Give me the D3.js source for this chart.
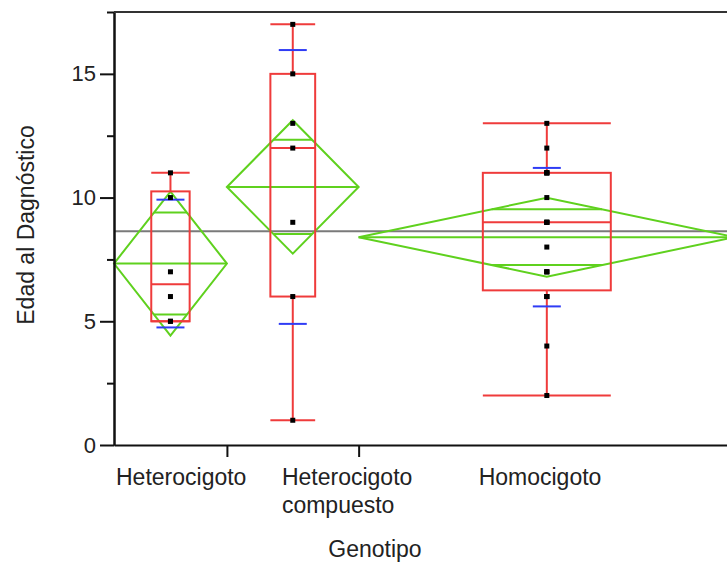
<!DOCTYPE html>
<html lang="es">
<head>
  <meta charset="UTF-8">
  <title>Edad al Diagnóstico por Genotipo</title>
  <script src="https://d3js.org/d3.v7.min.js"></script>
  <style>
    body { margin: 0; background: white; font-family: "Liberation Sans", Arial, sans-serif; }
    .axis path, .axis line { stroke: #111; stroke-width: 2; }
    .axis text { fill: #222; font-size: 22px; font-family: "Liberation Sans", Arial, sans-serif; }
    .label { fill: #222; font-size: 23px; }
  </style>
</head>
<body>
  <div id="chart"></div>

  <script>
    // datos por genotipo (edad al diagnóstico)
    const groups = ["Heterocigoto", "Heterocigoto compuesto", "Homocigoto"];
    const groupLines = [["Heterocigoto"], ["Heterocigoto", "compuesto"], ["Homocigoto"]];
    const hetValues = [5, 5, 6, 7, 10, 11];
    const compValues = [1, 6, 9, 12, 13, 15, 17];
    const homoValues = [2, 4, 6, 6, 6, 7, 7, 7, 8, 9, 9, 9, 9, 10, 11, 11, 11, 11, 12, 13];
    const yTicks = [0, 5, 10, 15];
    const yMinorTicks = [2.5, 7.5, 12.5, 17.5];
    const tCrit = 2.042; // t(0.975, df = 30)

    const values = [hetValues, compValues, homoValues];

    const width = 727, height = 569;
    const mLeft = 114, mRight = 735, mTop = 12, mBottom = 445;

    const red = "#ef3b3b", green = "#5fd11e", blue = "#2f3cf5";

    // cuantiles como JMP: posición p*(n+1)
    function quant(s, p) {
      const pos = p * (s.length + 1);
      const lo = Math.floor(pos), f = pos - lo;
      if (lo < 1) return s[0];
      if (lo >= s.length) return s[s.length - 1];
      return s[lo - 1] + f * (s[lo] - s[lo - 1]);
    }

    const stats = values.map(v => {
      const s = v.slice().sort((a, b) => a - b);
      const q1 = quant(s, 0.25), q3 = quant(s, 0.75), iqr = q3 - q1;
      const m = d3.mean(s);
      return {
        n: s.length,
        mean: m,
        sd: d3.deviation(s),
        q1, q3,
        med: quant(s, 0.5),
        lo: d3.min(s.filter(d => d >= q1 - 1.5 * iqr)),
        hi: d3.max(s.filter(d => d <= q3 + 1.5 * iqr)),
        ss: d3.sum(s, d => (d - m) ** 2),
        vals: s
      };
    });

    const total = d3.sum(stats, d => d.n);
    const grandMean = d3.sum(values.flat()) / total;
    const sPooled = Math.sqrt(d3.sum(stats, d => d.ss) / (total - stats.length));

    let cum = 0;
    stats.forEach(d => { d.start = cum; cum += d.n; d.end = cum; d.mid = (d.start + d.end) / 2; });

    const x = d3.scaleLinear().domain([0, total]).range([mLeft, mRight]);
    const y = d3.scaleLinear().domain([0, 17.5]).range([mBottom, mTop]);

    const svg = d3.select("#chart").append("svg")
      .attr("width", width).attr("height", height)
      .style("font-family", "'Liberation Sans', Arial, sans-serif");

    // línea de la media global
    svg.append("line")
      .attr("x1", mLeft).attr("x2", width)
      .attr("y1", y(grandMean)).attr("y2", y(grandMean))
      .attr("stroke", "#7a7a7a").attr("stroke-width", 2);

    // diamantes de medias
    stats.forEach(d => {
      const half = tCrit * sPooled / Math.sqrt(d.n);
      const x0 = x(d.start), x1 = x(d.end), xm = x(d.mid);
      const g = svg.append("g").attr("fill", "none").attr("stroke", green).attr("stroke-width", 2);
      g.append("path").attr("d", `M${x0},${y(d.mean)}L${xm},${y(d.mean + half)}L${x1},${y(d.mean)}L${xm},${y(d.mean - half)}Z`);
      g.append("line").attr("x1", x0).attr("x2", x1).attr("y1", y(d.mean)).attr("y2", y(d.mean));
      const ov = half / Math.SQRT2;
      const hw = (x1 - x0) / 2 * (1 - 1 / Math.SQRT2);
      [d.mean + ov, d.mean - ov].forEach(v => {
        g.append("line").attr("x1", xm - hw).attr("x2", xm + hw).attr("y1", y(v)).attr("y2", y(v));
      });
    });

    // diagramas de caja
    stats.forEach(d => {
      const bw = (x(d.end) - x(d.start)) * 0.34, xm = x(d.mid);
      const g = svg.append("g").attr("fill", "none").attr("stroke", red).attr("stroke-width", 2);
      g.append("rect").attr("x", xm - bw / 2).attr("width", bw)
        .attr("y", y(d.q3)).attr("height", y(d.q1) - y(d.q3));
      g.append("line").attr("x1", xm - bw / 2).attr("x2", xm + bw / 2).attr("y1", y(d.med)).attr("y2", y(d.med));
      g.append("line").attr("x1", xm).attr("x2", xm).attr("y1", y(d.q3)).attr("y2", y(d.hi));
      g.append("line").attr("x1", xm).attr("x2", xm).attr("y1", y(d.q1)).attr("y2", y(d.lo));
      [d.hi, d.lo].forEach(v => {
        g.append("line").attr("x1", xm - bw / 2).attr("x2", xm + bw / 2).attr("y1", y(v)).attr("y2", y(v));
      });
    });

    // líneas de desviación estándar
    stats.forEach(d => {
      const xm = x(d.mid);
      [d.mean + d.sd, d.mean - d.sd].forEach(v => {
        svg.append("line").attr("x1", xm - 14).attr("x2", xm + 14)
          .attr("y1", y(v)).attr("y2", y(v))
          .attr("stroke", blue).attr("stroke-width", 2);
      });
    });

    // puntos
    stats.forEach(d => {
      svg.append("g").selectAll("rect").data(d.vals).join("rect")
        .attr("x", x(d.mid) - 2.5).attr("y", v => y(v) - 2.5)
        .attr("width", 5).attr("height", 5).attr("fill", "#000");
    });

    // ejes
    svg.append("g").attr("class", "axis")
      .attr("transform", `translate(${mLeft},0)`)
      .call(d3.axisLeft(y).tickValues(yMinorTicks).tickSize(7).tickSizeOuter(0).tickFormat(""));
    svg.append("g").attr("class", "axis")
      .attr("transform", `translate(${mLeft},0)`)
      .call(d3.axisLeft(y).tickValues(yTicks).tickSize(14).tickSizeOuter(0).tickPadding(4));

    svg.append("g").attr("class", "axis")
      .attr("transform", `translate(0,${mBottom})`)
      .call(d3.axisBottom(x).tickValues(stats.slice(0, -1).map(d => d.end)).tickSize(12).tickSizeOuter(0).tickFormat(""));

    svg.append("line")
      .attr("x1", mLeft).attr("x2", width).attr("y1", mTop).attr("y2", mTop)
      .attr("stroke", "#333").attr("stroke-width", 2);

    // etiquetas de categoría
    const labelShift = [2, 55, 120];
    stats.forEach((d, i) => {
      const t = svg.append("text").attr("class", "label")
        .attr("x", x(d.start) + labelShift[i]).attr("y", 485);
      groupLines[i].forEach((line, j) => {
        t.append("tspan").attr("x", x(d.start) + labelShift[i]).attr("dy", j ? 28 : 0).text(line);
      });
    });

    svg.append("text").attr("class", "label")
      .attr("x", 375).attr("y", 557).attr("text-anchor", "middle").text("Genotipo");

    svg.append("text").attr("class", "label")
      .attr("transform", "rotate(-90)")
      .attr("x", -225).attr("y", 34).attr("text-anchor", "middle").text("Edad al Dagnóstico");
  </script>
</body>
</html>
